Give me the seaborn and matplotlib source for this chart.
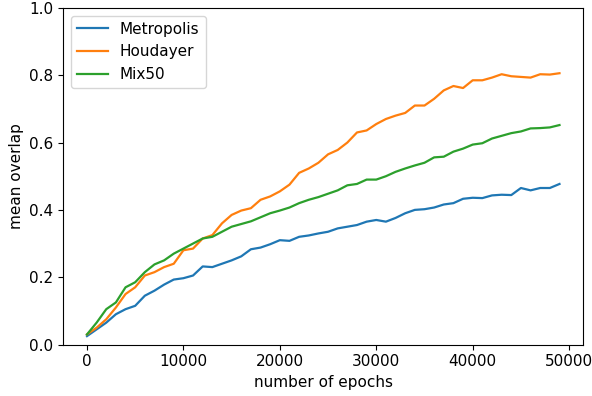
import numpy as np
import pandas as pd
import seaborn as sns
import matplotlib
matplotlib.use('Agg')
import matplotlib.pyplot as plt

epochs = np.arange(0, 50000, 1000)

metropolis = [0.025, 0.045, 0.065, 0.09, 0.105, 0.115, 0.145, 0.16, 0.178, 0.193,
              0.197, 0.205, 0.232, 0.23, 0.24, 0.25, 0.262, 0.283, 0.288, 0.298,
              0.31, 0.308, 0.32, 0.324, 0.33, 0.335, 0.345, 0.35, 0.355, 0.365,
              0.37, 0.365, 0.376, 0.39, 0.4, 0.402, 0.407, 0.416, 0.42, 0.433,
              0.436, 0.435, 0.443, 0.445, 0.444, 0.465, 0.458, 0.465, 0.465, 0.477]
houdayer = [0.03, 0.05, 0.075, 0.11, 0.15, 0.17, 0.205, 0.215, 0.23, 0.24,
            0.28, 0.285, 0.315, 0.325, 0.36, 0.385, 0.398, 0.405, 0.43, 0.44,
            0.455, 0.475, 0.51, 0.523, 0.54, 0.565, 0.578, 0.6, 0.63, 0.636,
            0.655, 0.67, 0.68, 0.688, 0.71, 0.71, 0.73, 0.755, 0.768, 0.762,
            0.785, 0.785, 0.793, 0.803, 0.797, 0.795, 0.793, 0.803, 0.802, 0.806]
mix50 = [0.03, 0.065, 0.105, 0.125, 0.17, 0.185, 0.215, 0.238, 0.25, 0.27,
         0.285, 0.3, 0.315, 0.32, 0.335, 0.35, 0.358, 0.366, 0.378, 0.39,
         0.398, 0.407, 0.42, 0.43, 0.438, 0.448, 0.458, 0.473, 0.477, 0.49,
         0.49, 0.5, 0.513, 0.523, 0.532, 0.54, 0.556, 0.558, 0.573, 0.582,
         0.594, 0.598, 0.612, 0.62, 0.628, 0.633, 0.642, 0.643, 0.645, 0.652]

df = pd.DataFrame({'epoch': np.tile(epochs, 3),
                   'overlap': metropolis + houdayer + mix50,
                   'method': ['Metropolis'] * 50 + ['Houdayer'] * 50 + ['Mix50'] * 50})

plt.rcParams['font.size'] = 11

fig, ax = plt.subplots(figsize=(5.92, 3.96), dpi=100)
sns.lineplot(data=df, x='epoch', y='overlap', hue='method', ax=ax, linewidth=1.6)
ax.set_ylim(0, 1)
ax.set_xlabel('number of epochs')
ax.set_ylabel('mean overlap')
ax.legend(title=None, loc='upper left')
fig.subplots_adjust(left=0.107, right=0.985, top=0.98, bottom=0.13)
fig.savefig('out.png', dpi=100)
